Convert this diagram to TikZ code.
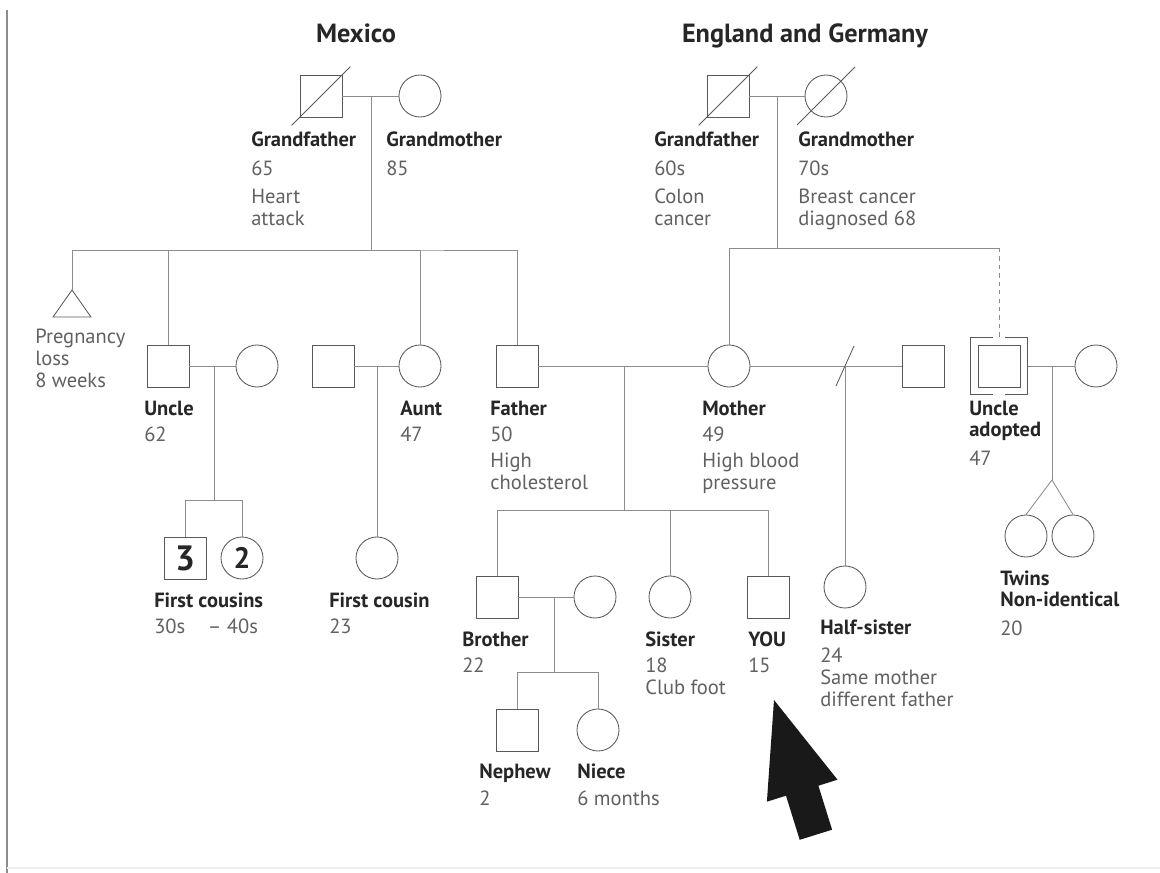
\documentclass[tikz,border=0pt]{standalone}
\usepackage{fontspec}
\setmainfont{PT Sans}
\usepackage{xcolor}
\usepackage{tikz}
\usetikzlibrary{positioning,calc}

\newcommand{\nm}[1]{{\bfseries\color{black!85}#1}}
\newcommand{\stack}[1]{\begin{tabular}[t]{@{}l@{}}#1\end{tabular}}

\begin{document}
\begin{tikzpicture}[x=0.025cm,y=-0.025cm,
    male/.style={draw=black!65,rectangle,minimum size=1.05cm,inner sep=0pt,line width=0.6pt},
    female/.style={draw=black!65,circle,minimum size=1.05cm,inner sep=0pt,line width=0.6pt},
    sym/.style={draw=black!65,line width=0.6pt},
    link/.style={draw=black!45,line width=0.6pt},
    lbl/.style={anchor=base west,inner sep=0pt,text=black!62,
        font=\fontsize{14.6}{15.6}\selectfont},
    title/.style={anchor=base,inner sep=0pt,text=black!85,
        font=\bfseries\fontsize{18.7}{20}\selectfont}]
    % page and frame
    \fill[white] (0,0) rectangle (1160,873);
    \useasboundingbox (0,0) rectangle (1160,873);
    \draw[black!45,line width=1.2pt] (7,10) -- (7,873);
    \draw[black!6,line width=1pt] (7,868) -- (1160,868);

    % grandparents
    \node[title] (mexico) at (356,43) {Mexico};
    \node[title] (england) at (805,43) {England and Germany};

    \node[male] (gf1) at (321,96) {};
    \node[female] (gm1) at (420,96) {};
    \node[male] (gf2) at (728,96) {};
    \node[female] (gm2) at (826,96) {};
    \draw[sym] ($(gf1.south west)+(-8,8)$) -- ($(gf1.north east)+(8,-8)$);
    \draw[sym] ($(gf2.south west)+(-8,8)$) -- ($(gf2.north east)+(8,-8)$);
    \draw[sym] ($(gm2.center)+(-29,29)$) -- ($(gm2.center)+(29,-29)$);

    \node[lbl] (gf1-txt) at (251,147) {\stack{\nm{Grandfather}\\[4.5pt]65\\[4.5pt]Heart\\attack}};
    \node[lbl] (gm1-txt) at (386,147) {\stack{\nm{Grandmother}\\[4.5pt]85}};
    \node[lbl] (gf2-txt) at (654,147) {\stack{\nm{Grandfather}\\[4.5pt]60s\\[4.5pt]Colon\\cancer}};
    \node[lbl] (gm2-txt) at (798,147) {\stack{\nm{Grandmother}\\[4.5pt]70s\\[4.5pt]Breast cancer\\diagnosed 68}};

    % parents' generation
    \coordinate (loss) at (72,290);
    \draw[sym] (loss) -- (53,317) -- (91,317) -- cycle;
    \node[male] (uncle1) at (168,366) {};
    \node[female] (uw) at (257,366) {};
    \node[male] (ah) at (333,366) {};
    \node[female] (aunt) at (420,366) {};
    \node[male] (father) at (517,366) {};
    \node[female] (mother) at (729,366) {};
    \node[male] (h2) at (923,366) {};
    \node[male] (adopt) at (999,366) {};
    \node[minimum size=1.425cm,inner sep=0pt] (adoptbox) at (999,366) {};
    \node[female] (aw) at (1096,366) {};
    \draw[sym] ($(adoptbox.north)+(-6,0)$) -| (adoptbox.south west) -- ($(adoptbox.south)+(-6,0)$);
    \draw[sym] ($(adoptbox.north)+(6,0)$) -| (adoptbox.south east) -- ($(adoptbox.south)+(6,0)$);

    \node[lbl] (loss-txt) at (35,344) {\stack{Pregnancy\\loss\\8 weeks}};
    \node[lbl] (uncle1-txt) at (144,415) {\stack{\nm{Uncle}\\[3pt]62}};
    \node[lbl] (aunt-txt) at (400,415) {\stack{\nm{Aunt}\\[3pt]47}};
    \node[lbl] (father-txt) at (490,415) {\stack{\nm{Father}\\[3pt]50\\[3pt]High\\cholesterol}};
    \node[lbl] (mother-txt) at (702,415) {\stack{\nm{Mother}\\[3pt]49\\[3pt]High blood\\pressure}};
    \node[lbl] (adopt-txt) at (969,415) {\stack{\nm{Uncle}\\\nm{adopted}\\[5pt]47}};

    % children
    \node[male,font=\bfseries\fontsize{25}{25}\selectfont,text=black!85] (cousins3) at (185,558) {3};
    \node[female,font=\bfseries\fontsize{21}{21}\selectfont,text=black!85] (cousins2) at (242,558) {2};
    \node[female] (cousin) at (377,558) {};
    \node[female] (halfsis) at (845,587) {};
    \node[male] (brother) at (497,597) {};
    \node[female] (bw) at (595,597) {};
    \node[female] (sister) at (670,597) {};
    \node[male] (you) at (768,597) {};
    \node[female] (twin1) at (1026,536) {};
    \node[female] (twin2) at (1073,536) {};
    \node[male] (nephew) at (517,730) {};
    \node[female] (niece) at (598,730) {};

    \node[lbl] (cousins-txt) at (154,607) {\stack{\nm{First cousins}\\[3pt]30s\hspace{1.1em}-- 40s}};
    \node[lbl] (cousin-txt) at (329,607) {\stack{\nm{First cousin}\\[3pt]23}};
    \node[lbl] (brother-txt) at (462,646) {\stack{\nm{Brother}\\[3pt]22}};
    \node[lbl] (sister-txt) at (645,646) {\stack{\nm{Sister}\\[3pt]18\\Club foot}};
    \node[lbl] (you-txt) at (748,646) {\stack{\nm{YOU}\\[3pt]15}};
    \node[lbl] (halfsis-txt) at (820,634) {\stack{\nm{Half-sister}\\[5pt]24\\Same mother\\different father}};
    \node[lbl] (twins-txt) at (1000,585) {\stack{\nm{Twins}\\\nm{Non-identical}\\[5pt]20}};
    \node[lbl] (nephew-txt) at (479,778) {\stack{\nm{Nephew}\\[4pt]2}};
    \node[lbl] (niece-txt) at (577,778) {\stack{\nm{Niece}\\[4pt]6 months}};

    % junctions
    \coordinate (m1) at (371,96);
    \coordinate (s1) at (371,250);
    \coordinate (m2) at (777,96);
    \coordinate (s2) at (777,248);
    \coordinate (s2r) at (999,248);
    \coordinate (m3) at (214,366);
    \coordinate (s3) at (214,500);
    \coordinate (m4) at (377,366);
    \coordinate (m5) at (624,366);
    \coordinate (s5) at (624,510);
    \coordinate (m6) at (845,366);
    \coordinate (m7) at (554,597);
    \coordinate (s7) at (554,672);
    \coordinate (m8) at (1052,366);
    \coordinate (apex) at (1052,480);

    % lines
    \draw[link] (gf1) -- (gm1);
    \draw[link] (m1) -- (s1);
    \draw[link] (loss) |- (s1) -| (father.north);
    \draw[link] (s1) -| (uncle1.north);
    \draw[link] (s1) -| (aunt.north);
    \draw[link] (gf2) -- (gm2);
    \draw[link] (m2) -- (s2);
    \draw[link] (s2) -| (mother.north);
    \draw[link] (s2) -- (s2r);
    \draw[link,dashed] (s2r) -- (adoptbox.north);

    \draw[link] (uncle1) -- (uw);
    \draw[link] (m3) -- (s3);
    \draw[link] (s3) -| (cousins3.north);
    \draw[link] (s3) -| (cousins2.north);
    \draw[link] (ah) -- (aunt);
    \draw[link] (m4) -- (cousin.north);
    \draw[link] (father) -- (mother);
    \draw[link] (m5) -- (s5);
    \draw[link] (s5) -| (brother.north);
    \draw[link] (s5) -| (sister.north);
    \draw[link] (s5) -| (you.north);
    \draw[link] (mother) -- (h2);
    \draw[sym] ($(m6)+(-9,20)$) -- ($(m6)+(9,-20)$);
    \draw[link] (m6) -- (halfsis.north);
    \draw[link] (adoptbox) -- (aw);
    \draw[link] (m8) -- (apex);
    \draw[link] (apex) -- (twin1.north);
    \draw[link] (apex) -- (twin2.north);
    \draw[link] (brother) -- (bw);
    \draw[link] (m7) -- (s7);
    \draw[link] (s7) -| (nephew.north);
    \draw[link] (s7) -| (niece.north);

    % pointer to you
    \fill[black!90] (774,700) -- (837.5,779.7) -- (818.4,785.7) -- (832.1,829.7)
        -- (799.7,839.8) -- (786,795.7) -- (766.9,801.7) -- cycle;
\end{tikzpicture}
\end{document}
